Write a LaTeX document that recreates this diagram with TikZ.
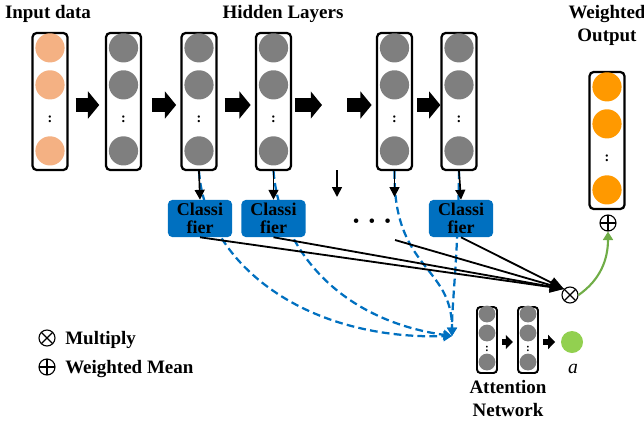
\documentclass[tikz,border=0pt]{standalone}
\usepackage{fontspec}
\setmainfont{Liberation Serif}
\usetikzlibrary{arrows.meta,backgrounds}
\definecolor{clfblue}{HTML}{0070C0}
\definecolor{unitgray}{HTML}{7F7F7F}
\definecolor{inorange}{HTML}{F4B183}
\definecolor{outorange}{HTML}{FF9900}
\definecolor{attgreen}{HTML}{92D050}
\definecolor{arrgreen}{HTML}{70AD47}

\begin{document}
\begin{tikzpicture}[x=0.025cm,y=-0.025cm,
  col/.style={draw,line width=1.6pt,rounded corners=3pt,minimum width=0.875cm,minimum height=3.425cm,inner sep=0},
  acol/.style={draw,line width=1.4pt,rounded corners=2.5pt,minimum width=0.5cm,minimum height=1.65cm,inner sep=0},
  unit/.style={circle,fill=unitgray,minimum size=0.73cm,inner sep=0},
  aunit/.style={circle,fill=unitgray,minimum size=0.42cm,inner sep=0},
  vdots/.style={font=\fontsize{10}{10}\selectfont\bfseries,inner sep=0},
  lbl/.style={font=\fontsize{13.5}{16.4}\selectfont\bfseries,align=center,inner sep=0},
  clf/.style={fill=clfblue,rounded corners=3pt,minimum width=1.6cm,minimum height=0.925cm,align=center,inner sep=0,font=\fontsize{12.8}{13}\selectfont\bfseries},
  otimes/.style={circle,draw,line width=0.8pt,minimum size=0.4cm,inner sep=0,
    path picture={\draw[line width=0.8pt] (path picture bounding box.north west) -- (path picture bounding box.south east)
      (path picture bounding box.north east) -- (path picture bounding box.south west);}},
  oplus/.style={circle,draw,line width=0.8pt,minimum size=0.4cm,inner sep=0,
    path picture={\draw[line width=0.8pt] (path picture bounding box.north) -- (path picture bounding box.south)
      (path picture bounding box.east) -- (path picture bounding box.west);}},
  blk/.style={line width=10pt,-{Triangle[width=19pt,length=8pt]},transform canvas={yshift=-2.5pt}},
  sblk/.style={line width=4.5pt,-{Triangle[width=10pt,length=5pt]}},
  down/.style={line width=1.2pt,-{Triangle[width=7pt,length=7pt]}},
  feat/.style={clfblue,line width=1.6pt,dash pattern=on 5.5pt off 3pt,-{Triangle[width=7pt,length=6pt]}},
  prod/.style={line width=1.3pt,-{Triangle[width=8pt,length=10pt]}}]
\useasboundingbox (0,0) rectangle (644,427);

% titles
\node[lbl,anchor=base] (tin) at (48,19) {Input data};
\node[lbl,anchor=base] (thid) at (283,19) {Hidden Layers};
\node[lbl] (tout) at (607,25) {Weighted\\Output};

% input layer
\node[col] (in) at (50,101.5) {};
\node[unit,fill=inorange] (in-1) at ([yshift=-0.4cm]in.north) {};
\node[unit,fill=inorange] (in-2) at ([yshift=-1.325cm]in.north) {};
\node[vdots] (in-d) at ([yshift=-2.175cm]in.north) {:};
\node[unit,fill=inorange] (in-3) at ([yshift=-2.975cm]in.north) {};

% hidden layers
\foreach \n/\x in {h1/123.5,h2/199,h3/273.5,h4/394.5,h5/459}{
  \node[col] (\n) at (\x,101.5) {};
  \node[unit] (\n-1) at ([yshift=-0.4cm]\n.north) {};
  \node[unit] (\n-2) at ([yshift=-1.325cm]\n.north) {};
  \node[vdots] (\n-d) at ([yshift=-2.175cm]\n.north) {:};
  \node[unit] (\n-3) at ([yshift=-2.975cm]\n.north) {};
}

% output layer
\node[col] (out) at (607,140.5) {};
\node[unit,fill=outorange] (out-1) at ([yshift=-0.4cm]out.north) {};
\node[unit,fill=outorange] (out-2) at ([yshift=-1.325cm]out.north) {};
\node[vdots] (out-d) at ([yshift=-2.175cm]out.north) {:};
\node[unit,fill=outorange] (out-3) at ([yshift=-2.975cm]out.north) {};
\node[oplus] (add) at (608,223) {};

\coordinate (gapa) at (322,101.5);
\coordinate (gapb) at (347,101.5);
\path[draw,blk,shorten <=5pt,shorten >=4pt] (in.east) -- (h1.west);
\path[draw,blk,shorten <=7pt,shorten >=3pt] (h1.east) -- (h2.west);
\path[draw,blk,shorten <=5pt,shorten >=3pt] (h2.east) -- (h3.west);
\path[draw,blk,shorten <=2pt] (h3.east) -- (gapa);
\path[draw,blk,shorten >=3pt] (gapb) -- (h4.west);
\path[draw,blk,shorten <=3pt] (h4.east) -- (h5.west);

% classifiers
\node[clf] (c1) at (200,218.5) {Classi\\fier};
\node[clf] (c2) at (273.5,218.5) {Classi\\fier};
\node[clf] (c3) at (461,218.5) {Classi\\fier};
\node[font=\fontsize{13.5}{14}\selectfont,inner sep=0] (more) at (372,223) {\textbullet\hspace{6.5pt}\textbullet\hspace{6.5pt}\textbullet};

\coordinate (gtop) at (337,170);
\coordinate (gbot) at (337,197);
\coordinate (h4end) at (394.5,197);
\coordinate (h4cls) at (395,240);
\path[draw,down] (h2.south) -- (c1.north);
\path[draw,down] (h3.south) -- (c2.north);
\path[draw,down] (gtop) -- (gbot);
\path[draw,down] (h4.south) -- (h4end);
\path[draw,down] (h5.south) -- (c3.north);

% attention network
\node[acol] (a1) at (487,340) {};
\node[aunit] (a1-1) at ([yshift=-0.2cm]a1.north) {};
\node[aunit] (a1-2) at ([yshift=-0.675cm]a1.north) {};
\node[vdots,font=\fontsize{8}{8}\selectfont\bfseries] (a1-d) at ([yshift=-1.075cm]a1.north) {:};
\node[aunit] (a1-3) at ([yshift=-1.4cm]a1.north) {};
\node[acol] (a2) at (528,340) {};
\node[aunit] (a2-1) at ([yshift=-0.2cm]a2.north) {};
\node[aunit] (a2-2) at ([yshift=-0.675cm]a2.north) {};
\node[vdots,font=\fontsize{8}{8}\selectfont\bfseries] (a2-d) at ([yshift=-1.075cm]a2.north) {:};
\node[aunit] (a2-3) at ([yshift=-1.4cm]a2.north) {};
\node[circle,fill=attgreen,minimum size=0.55cm,inner sep=0] (w) at (572,342) {};
\node[font=\fontsize{14}{14}\selectfont\itshape,anchor=base,inner sep=0] (wa) at (573,373) {a};
\node[lbl] (tatt) at (508,398.5) {Attention\\Network};
\path[draw,sblk,shorten <=3pt,shorten >=3pt] (a1.east |- w) -- (a2.west |- w);
\path[draw,sblk,shorten <=3pt,shorten >=4pt] (a2.east |- w) -- (w.west);

% features into the attention network
\coordinate (att) at (452,336);
\begin{pgfonlayer}{background}
\path[draw,feat] (h2.south) .. controls (205,260) and (300,340) .. (att);
\path[draw,feat] (h3.south) .. controls (280,250) and (340,320) .. (att);
\path[draw,feat] (h4.south) .. controls (393,270) and (452,265) .. (att);
\path[draw,feat] (h5.south) .. controls (458,260) and (452,300) .. (att);
\end{pgfonlayer}

% multiply and weighted mean
\node[otimes] (mul) at (570,295) {};
\path[draw,prod] (c1.south) -- (mul.north west);
\path[draw,prod] (c2.south) -- (mul.north west);
\path[draw,prod] (h4cls) -- (mul.north west);
\path[draw,prod] (c3.south) -- (mul.north west);
\path[draw,arrgreen,line width=1.5pt,-{Triangle[width=7pt,length=6pt]}] (mul.east) to[out=35,in=-90] (add.south);

% legend
\node[otimes] (lmul) at (47,338) {};
\node[lbl,anchor=base west] (lmultxt) at (65,344) {Multiply};
\node[oplus] (ladd) at (47,367) {};
\node[lbl,anchor=base west] (laddtxt) at (65,373) {Weighted Mean};
\end{tikzpicture}
\end{document}
